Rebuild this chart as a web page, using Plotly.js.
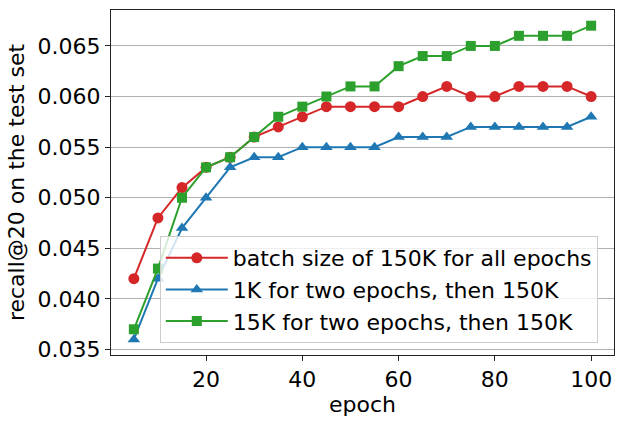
<!DOCTYPE html>
<html>
<head>
<meta charset="utf-8">
<script src="https://cdn.plot.ly/plotly-3.0.1.min.js"></script>
<style>html,body{margin:0;padding:0;background:#fff;}#chart{width:624px;height:424px;}</style>
</head>
<body>
<div id="chart"></div>
<script>
const epochs = [5,10,15,20,25,30,35,40,45,50,55,60,65,70,75,80,85,90,95,100];
const batch150K = [0.042,0.048,0.051,0.053,0.054,0.056,0.057,0.058,0.059,0.059,0.059,0.059,0.060,0.061,0.060,0.060,0.061,0.061,0.061,0.060];
const oneKThen150K = [0.036,0.042,0.047,0.050,0.053,0.054,0.054,0.055,0.055,0.055,0.055,0.056,0.056,0.056,0.057,0.057,0.057,0.057,0.057,0.058];
const fifteenKThen150K = [0.037,0.043,0.050,0.053,0.054,0.056,0.058,0.059,0.060,0.061,0.061,0.063,0.064,0.064,0.065,0.065,0.066,0.066,0.066,0.067];
const seriesNames = ["batch size of 150K for all epochs","1K for two epochs, then 150K","15K for two epochs, then 150K"];
const yTicks = [0.035,0.040,0.045,0.050,0.055,0.060,0.065];
const xTicks = [20,40,60,80,100];

const font = "DejaVu Sans, sans-serif";
const fs = 22;
function tr(y, name, color, symbol, size){
  return {x: epochs, y: y, name: name, type: "scatter", mode: "lines+markers",
    line: {color: color, width: 2}, marker: {color: color, symbol: symbol, size: size}};
}
const data = [
  tr(batch150K, seriesNames[0], "#d62728", "circle", 11),
  tr(oneKThen150K, seriesNames[1], "#1f77b4", "triangle-up", 11),
  tr(fifteenKThen150K, seriesNames[2], "#2ca02c", "square", 10)
];
const layout = {
  width: 624, height: 424,
  margin: {l: 111, r: 10, t: 10, b: 68.5},
  paper_bgcolor: "#fff", plot_bgcolor: "#fff",
  font: {family: font, size: fs, color: "#000"},
  showlegend: true,
  legend: {x: 0.097, y: 0.345, xanchor: "left", yanchor: "top",
    bgcolor: "rgba(255,255,255,0.8)", bordercolor: "#cccccc", borderwidth: 1,
    font: {family: font, size: fs}, itemwidth: 62, tracegroupgap: 0},
  xaxis: {range: [0.25, 104.75], tickvals: xTicks, ticktext: xTicks.map(String),
    showgrid: false, zeroline: false, showline: true, mirror: true, linecolor: "#222", linewidth: 1,
    ticks: "outside", ticklen: 5, tickcolor: "#222", tickfont: {size: fs},
    title: {text: "epoch", font: {size: fs}, standoff: 4}},
  yaxis: {range: [0.03446, 0.06855], tickvals: yTicks, ticktext: yTicks.map(v => v.toFixed(3)),
    showgrid: true, gridcolor: "#b0b0b0", gridwidth: 1, zeroline: false,
    showline: true, mirror: true, linecolor: "#222", linewidth: 1,
    ticks: "outside", ticklen: 5, tickcolor: "#222", tickfont: {size: fs},
    title: {text: "recall@20 on the test set", font: {size: fs}, standoff: 6}}
};
Plotly.newPlot("chart", data, layout, {staticPlot: true, displayModeBar: false});
</script>
</body>
</html>
